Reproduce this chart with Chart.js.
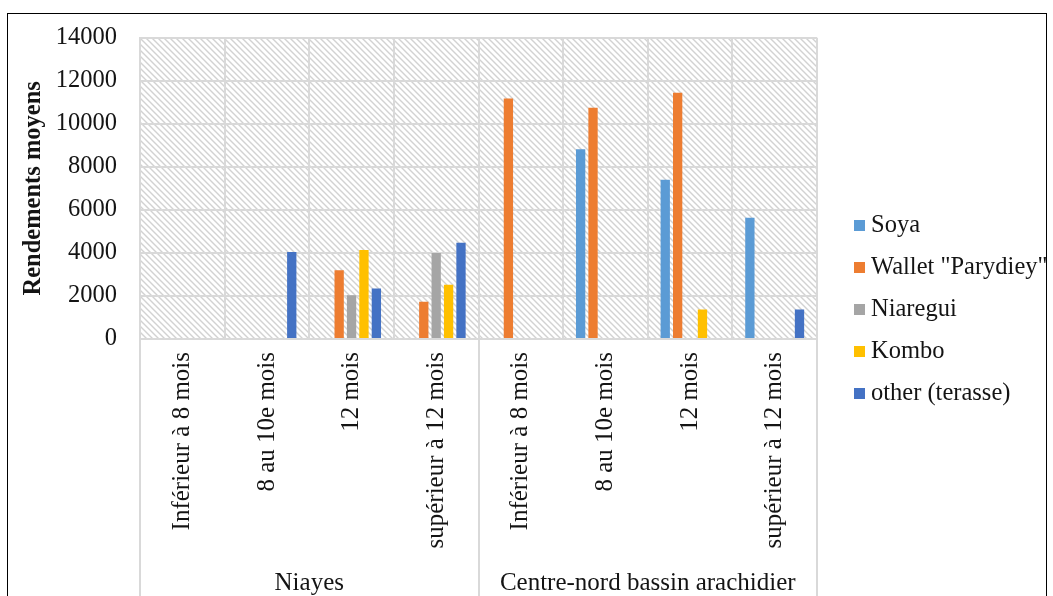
<!DOCTYPE html>
<html>
<head>
<meta charset="utf-8">
<script src="https://cdn.jsdelivr.net/npm/chart.js@4.4.1/dist/chart.umd.min.js"></script>
<style>
  html, body { margin: 0; padding: 0; background: #fff; }
  canvas { display: block; }
</style>
</head>
<body>
<canvas id="chart" width="1053" height="596"></canvas>
<script>
// Harvest age classes, four per zone
const periods = [
  "Inférieur à 8 mois", "8 au 10e mois", "12 mois", "supérieur à 12 mois",
  "Inférieur à 8 mois", "8 au 10e mois", "12 mois", "supérieur à 12 mois"
];
const zones = ["Niayes", "Centre-nord bassin arachidier"];
const periodsPerZone = 4;

// Average yields per variety
const soya     = [null, null, null, null, null, 8820, 7400, 5630];
const wallet   = [null, null, 3200, 1730, 11180, 10750, 11440, null];
const niaregui = [null, null, 2030, 4000, null, null, null, null];
const kombo    = [null, null, 4130, 2520, null, null, 1370, null];
const other    = [null, 4040, 2350, 4470, null, null, null, 1370];

const seriesNames = ["Soya", "Wallet \"Parydiey\"", "Niaregui", "Kombo", "other (terasse)"];
const seriesValues = [soya, wallet, niaregui, kombo, other];
const seriesColors = ["#5B9BD5", "#ED7D31", "#A5A5A5", "#FFC000", "#4472C4"];

const yMin = 0, yMax = 14000, yStep = 2000;
const yTitle = "Rendements moyens";

const FONT = "'Liberation Serif', 'Times New Roman', serif";
const TEXT = "#141414";
const GRID = "#d9d9d9";

// Diagonal hatch used as the plot background
function hatchPattern(ctx) {
  const t = document.createElement("canvas");
  t.width = 6; t.height = 6;
  const c = t.getContext("2d");
  c.fillStyle = "#ffffff";
  c.fillRect(0, 0, 6, 6);
  c.strokeStyle = "#d2d2d2";
  c.lineWidth = 1.4;
  c.beginPath();
  c.moveTo(-1, -1); c.lineTo(7, 7);
  c.moveTo(-7, -1); c.lineTo(1, 7);
  c.moveTo(5, -1); c.lineTo(13, 7);
  c.stroke();
  return ctx.createPattern(t, "repeat");
}

const plotBackground = {
  id: "plotBackground",
  beforeDraw(chart) {
    const { ctx, chartArea: a } = chart;
    ctx.save();
    ctx.fillStyle = "#fff";
    ctx.fillRect(0, 0, chart.width, chart.height);
    ctx.fillStyle = hatchPattern(ctx);
    ctx.fillRect(a.left, a.top, a.right - a.left, a.bottom - a.top);
    ctx.restore();
  }
};

// Zone labels under the period labels, with separators between zones
const zoneAxis = {
  id: "zoneAxis",
  afterDraw(chart) {
    const { ctx, chartArea: a } = chart;
    const x = chart.scales.x;
    const half = (x.getPixelForValue(1) - x.getPixelForValue(0)) / 2;
    ctx.save();
    ctx.strokeStyle = GRID;
    ctx.lineWidth = 2;
    for (let z = 0; z <= zones.length; z++) {
      const idx = Math.min(z * periodsPerZone, periods.length - 1);
      const px = z * periodsPerZone < periods.length
        ? x.getPixelForValue(idx) - half
        : x.getPixelForValue(idx) + half;
      ctx.beginPath();
      ctx.moveTo(Math.round(px), a.bottom);
      ctx.lineTo(Math.round(px), chart.height);
      ctx.stroke();
    }
    ctx.fillStyle = TEXT;
    ctx.font = "25px " + FONT;
    ctx.textAlign = "center";
    ctx.textBaseline = "middle";
    zones.forEach((name, z) => {
      const first = x.getPixelForValue(z * periodsPerZone);
      const last = x.getPixelForValue(z * periodsPerZone + periodsPerZone - 1);
      ctx.fillText(name, (first + last) / 2, 583);
    });
    ctx.restore();
  }
};

// Legend to the right of the plot
const sideLegend = {
  id: "sideLegend",
  afterDraw(chart) {
    const { ctx } = chart;
    ctx.save();
    ctx.font = "24.5px " + FONT;
    ctx.textBaseline = "middle";
    ctx.textAlign = "left";
    chart.data.datasets.forEach((ds, i) => {
      const cy = 225 + i * 42;
      ctx.fillStyle = ds.backgroundColor;
      ctx.fillRect(854, cy - 5, 11, 11);
      ctx.fillStyle = TEXT;
      ctx.fillText(ds.label, 871, cy + 1);
    });
    ctx.restore();
  }
};

// Outer frame of the figure
const frame = {
  id: "frame",
  afterDraw(chart) {
    const { ctx } = chart;
    ctx.save();
    ctx.strokeStyle = "#000";
    ctx.lineWidth = 1;
    ctx.strokeRect(7.5, 13.5, 1039, 700);
    ctx.restore();
  }
};

new Chart(document.getElementById("chart"), {
  type: "bar",
  data: {
    labels: periods,
    datasets: seriesNames.map((name, i) => ({
      label: name,
      data: seriesValues[i],
      backgroundColor: seriesColors[i],
      borderWidth: 0,
      categoryPercentage: 0.733,
      barPercentage: 0.75
    }))
  },
  options: {
    responsive: false,
    animation: false,
    devicePixelRatio: 1,
    layout: { padding: { top: 36, right: 236, bottom: 0, left: 0 } },
    plugins: {
      legend: { display: false },
      tooltip: { enabled: false }
    },
    scales: {
      x: {
        grid: { color: GRID, lineWidth: 2, offset: true, drawTicks: false },
        border: { color: GRID, width: 2 },
        ticks: {
          autoSkip: false,
          minRotation: 90,
          maxRotation: 90,
          padding: 13,
          color: TEXT,
          font: { family: FONT, size: 25 }
        },
        afterFit(scale) { scale.height = 257; }
      },
      y: {
        min: yMin,
        max: yMax,
        grid: { color: GRID, lineWidth: 2, drawTicks: false },
        border: { color: GRID, width: 2 },
        ticks: {
          stepSize: yStep,
          padding: 23,
          color: TEXT,
          font: { family: FONT, size: 24.5 },
          callback: (v) => String(v)
        },
        title: {
          display: true,
          text: yTitle,
          color: TEXT,
          font: { family: FONT, size: 24.5, weight: "bold" },
          padding: { top: 19, bottom: 0 }
        },
        afterFit(scale) { scale.width = 140; }
      }
    }
  },
  plugins: [plotBackground, zoneAxis, sideLegend, frame]
});
</script>
</body>
</html>
